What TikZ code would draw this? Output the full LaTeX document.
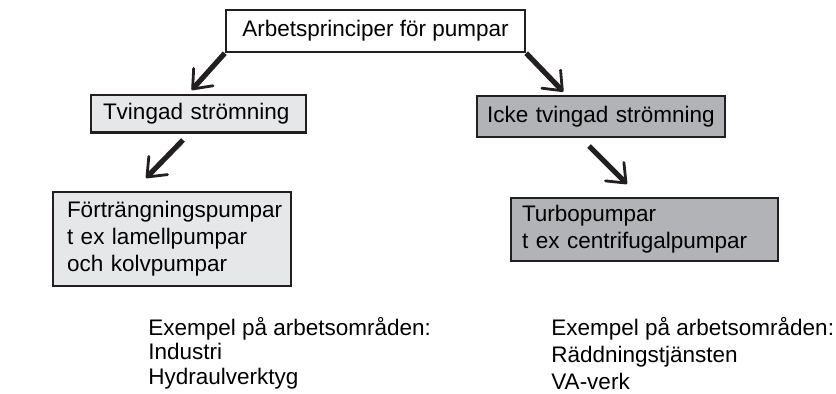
\documentclass[tikz,border=0pt]{standalone}
\usepackage{fontspec}
\setmainfont{Liberation Sans}
\usetikzlibrary{arrows.meta}

\definecolor{boxline}{HTML}{231F20}
\definecolor{pumplight}{HTML}{E6E7E9}
\definecolor{pumpdark}{HTML}{B2B3B6}

\tikzset{
  pumpbox/.style={draw=boxline, line width=1.2pt, rectangle, inner ysep=0pt,
    align=left, font=\fontsize{11.25}{13.5}\selectfont},
  flowarrow/.style={draw=boxline, line width=2.6pt,
    -{Straight Barb[length=8pt,width=13pt,line width=1.4pt,round]}},
  areatext/.style={anchor=north west, inner sep=0pt, align=left}
}

\begin{document}
\begin{tikzpicture}[x=0.5pt,y=-0.5pt]
    \useasboundingbox (0,0) rectangle (836,393);

    \node[pumpbox, fill=white, minimum width=149.5pt, minimum height=21pt, align=center]
      (top) at (375.5,31) {Arbetsprinciper för pumpar};

    \node[pumpbox, fill=pumplight, inner xsep=6pt, text width=95.5pt, minimum height=18.75pt]
      (tving) at (198.5,113.75) {Tvingad strömning};
    \node[pumpbox, fill=pumpdark, inner xsep=5pt, text width=114pt, minimum height=20.5pt]
      (icke) at (601,116.2) {Icke tvingad strömning};

    \node[pumpbox, fill=pumplight, inner xsep=7pt, text width=105pt, minimum height=47pt]
      (forttr) at (172,239) {Förträngningspumpar\\t ex lamellpumpar\\och kolvpumpar};
    \node[pumpbox, fill=pumpdark, inner xsep=5.5pt, text width=122.5pt, minimum height=31.5pt]
      (turbo) at (644.5,229.5) {Turbopumpar\\t ex centrifugalpumpar};

    % free ends of the arrows
    \coordinate (t1) at (191.7,90);
    \coordinate (t2) at (563.3,91.7);
    \coordinate (s3) at (183,140);
    \coordinate (t3) at (146,178);
    \coordinate (s4) at (589,146);
    \coordinate (t4) at (627,184);

    \draw[flowarrow] (top.south west) -- (t1);
    \draw[flowarrow] (top.south east) -- (t2);
    \draw[flowarrow] (s3) -- (t3);
    \draw[flowarrow] (s4) -- (t4);

    \node[areatext, font=\fontsize{11.25}{12.15}\selectfont] (leftarea) at (148,317)
      {Exempel på arbetsområden:\\Industri\\Hydraulverktyg};
    \node[areatext, font=\fontsize{11.25}{13.5}\selectfont] (rightarea) at (551,317)
      {Exempel på arbetsområden:\\Räddningstjänsten\\VA-verk};
\end{tikzpicture}
\end{document}
